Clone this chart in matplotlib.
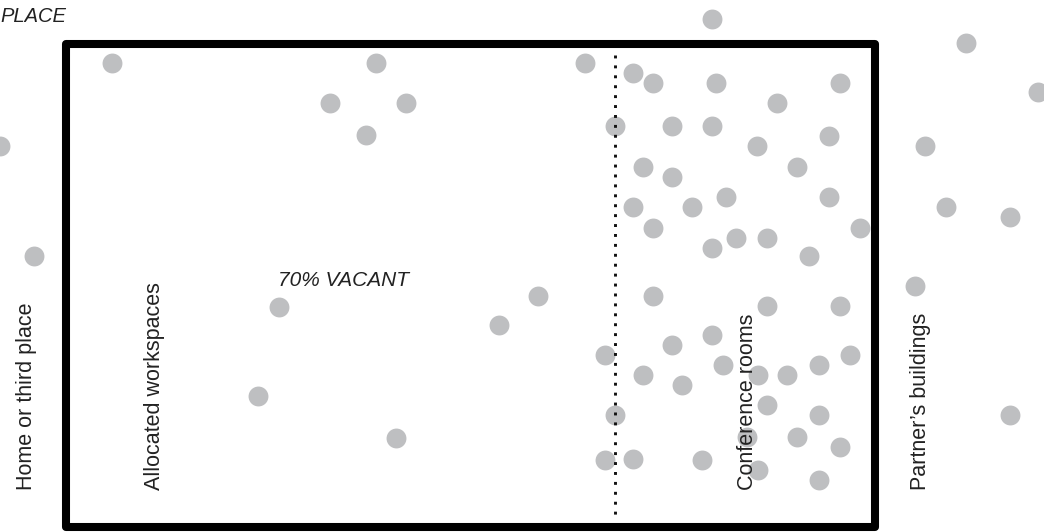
import matplotlib
matplotlib.use("Agg")
import matplotlib.pyplot as plt
from matplotlib.patches import Rectangle

plt.rcParams['font.family'] = ['Liberation Sans', 'DejaVu Sans']

# people positions (pixel-like coordinates of the sketch)
home_x = [0, 34]
home_y = [146, 256]

alloc_x = [112, 376, 330, 406, 366, 585, 279, 258, 396, 499, 538]
alloc_y = [63, 63, 103, 103, 135, 63, 307, 396, 438, 325, 296]

conf_x = [633, 653, 716, 840, 777, 615, 672, 712, 829, 757, 643, 797, 672, 726, 829,
          633, 692, 653, 860, 736, 767, 712, 809,
          653, 767, 840, 712, 672, 605, 850, 723, 819, 643, 758, 787, 682, 767, 615,
          819, 747, 797, 840, 605, 633, 702, 758, 819]
conf_y = [73, 83, 83, 83, 103, 126, 126, 126, 136, 146, 167, 167, 177, 197, 197,
          207, 207, 228, 228, 238, 238, 248, 256,
          296, 306, 306, 335, 345, 355, 355, 365, 365, 375, 375, 375, 385, 405, 415,
          415, 437, 437, 447, 460, 459, 460, 470, 480]

partner_x = [712, 966, 1038, 925, 946, 1010, 915, 1010]
partner_y = [19, 43, 92, 146, 207, 217, 286, 415]

zone_labels = ["Home or third place", "Allocated workspaces", "Conference rooms", "Partner\u2019s buildings"]
zone_label_x = [32, 160, 753, 926]

fig = plt.figure(figsize=(10.44, 5.32), dpi=100)
ax = fig.add_axes([0, 0, 1, 1])
ax.set_xlim(0, 1044)
ax.set_ylim(532, 0)
ax.axis('off')

dot = dict(s=205, color='#bebfc1', linewidths=0, zorder=2)
for xs, ys in [(home_x, home_y), (alloc_x, alloc_y), (conf_x, conf_y), (partner_x, partner_y)]:
    ax.scatter(xs, ys, **dot)

# office box
ax.add_patch(Rectangle((66, 44), 809, 483, fill=False, edgecolor='black',
                       linewidth=5.8, joinstyle='round', zorder=3))

# split between desks and meeting rooms
ax.plot([615, 615], [55, 520], color='#111111', linewidth=2.1,
        dashes=(1, 2.4), dash_capstyle='butt', zorder=4)

# vertical labels, baseline at lx, starting at y=490
for lab, lx in zip(zone_labels, zone_label_x):
    ax.text(lx, 490, lab, rotation=90, rotation_mode='anchor', ha='left', va='baseline',
            fontsize=15.5, color='#222222', zorder=5)

ax.text(344, 281, "70% VACANT", style='italic', ha='center', va='center',
        fontsize=15, color='#222222', zorder=5)
ax.text(0, 17, "PLACE", style='italic', ha='left', va='center',
        fontsize=14.5, color='#222222', zorder=5)

fig.savefig("out.png", dpi=100)
